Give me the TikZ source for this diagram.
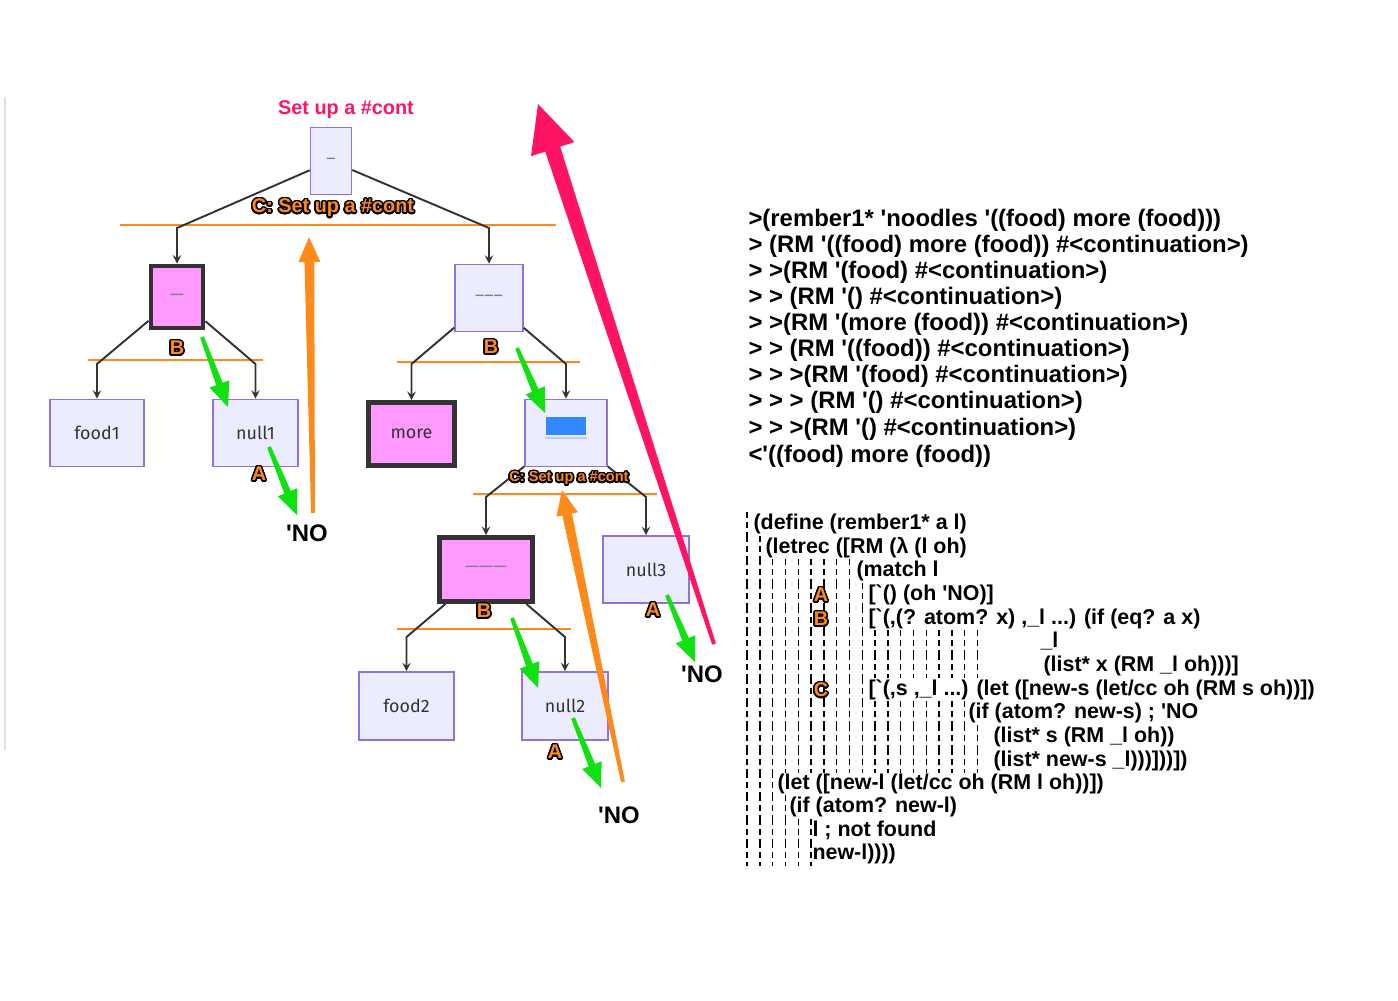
\documentclass[tikz,border=0pt]{standalone}
\usepackage{fontspec}
\setmainfont{Liberation Sans}
\newfontfamily\treefont{Fira Sans}
\usepackage[copies]{contour}
\usepackage{tikz}
\usetikzlibrary{arrows,calc}

\contourlength{0.9pt}
\contournumber{24}

\definecolor{lavfill}{HTML}{ECECFF}
\definecolor{lavline}{HTML}{9370DB}
\definecolor{hotpink}{HTML}{FF99FF}
\definecolor{boxdark}{HTML}{333333}
\definecolor{cutorange}{HTML}{FF8A1C}
\definecolor{arrowgreen}{HTML}{11E011}
\definecolor{crimson}{HTML}{FF1464}
\definecolor{barblue}{HTML}{3388FF}

\newcommand{\q}{\textquotesingle}
\newcommand{\bq}{\textasciigrave}
\newcommand{\tagtext}[1]{\textcolor{cutorange}{\contour{black}{#1}}}

% colour, tail, tip, tail half width, neck half width, head half width, head length
\newcommand{\taperarrow}[7]{%
  \coordinate (#2n) at ($(#3)!#7!(#2)$);
  \fill[#1] ($(#2)!#4!90:(#3)$) -- ($(#2n)!#5!90:(#3)$) -- ($(#2n)!#6!90:(#3)$) -- (#3)
    -- ($(#2n)!#6!-90:(#3)$) -- ($(#2n)!#5!-90:(#3)$) -- ($(#2)!#4!-90:(#3)$) -- cycle;}

\begin{document}
\begin{tikzpicture}[x=0.02cm, y=-0.02cm, >=stealth, semithick,
  box/.style={draw=lavline, fill=lavfill, line width=0.9pt, text=boxdark, font=\treefont\fontsize{10.2}{12}\selectfont},
  hot/.style={box, draw=boxdark, fill=hotpink, line width=2.8pt},
  link/.style={->, draw=boxdark, line width=1.1pt},
  cutline/.style={draw=cutorange, line width=1.1pt},
  tag/.style={yshift=-1pt, font=\bfseries\fontsize{11.3}{13}\selectfont},
  smalltag/.style={font=\bfseries\fontsize{8.3}{10}\selectfont},
  noword/.style={font=\bfseries\fontsize{13.6}{16}\selectfont},
  traceline/.style={anchor=west, inner sep=0pt, text height=10pt, text depth=3.5pt, font=\bfseries\fontsize{13.6}{15}\selectfont},
  codeline/.style={anchor=west, inner sep=0pt, text height=9pt, text depth=3pt, font=\bfseries\fontsize{12.2}{14}\selectfont},
  guide/.style={dash pattern=on 3.4pt off 2.3pt, line width=0.8pt}]

\useasboundingbox (0,0) rectangle (1398,1000);
\draw[line width=0.9pt, black!12] (5,97) -- (5,750);

% tree
\node[box, minimum width=0.82cm, minimum height=1.34cm] (root) at (331,161) {\textcolor{gray}{–}};
\node[hot, minimum width=1.04cm, minimum height=1.24cm] (L1) at (177,297) {\textcolor{gray}{—}};
\node[box, minimum width=1.36cm, minimum height=1.34cm] (R1) at (489,298) {\textcolor{gray}{–––}};
\node[box, minimum width=1.88cm, minimum height=1.34cm] (food1) at (97,433) {food1};
\node[box, minimum width=1.70cm, minimum height=1.34cm] (null1) at (255.5,433) {null1};
\node[hot, minimum width=1.72cm, minimum height=1.26cm] (more) at (411.5,434) {more};
\node[box, minimum width=1.64cm, minimum height=1.34cm] (R2) at (566,433) {};
\node[fill=barblue, inner sep=0pt, minimum width=0.8cm, minimum height=0.36cm] (R2bar) at (566,426) {};
\draw[barblue!40, line width=1pt] ([yshift=-1.2pt]R2bar.south west) -- ([yshift=-1.2pt]R2bar.south east);
\node[hot, minimum width=1.86cm, minimum height=1.28cm] (R3) at (486,569.5) {\textcolor{gray}{———}};
\node[box, minimum width=1.72cm, minimum height=1.34cm] (null3) at (646,569.5) {null3};
\node[box, minimum width=1.90cm, minimum height=1.36cm] (food2) at (406.5,706) {food2};
\node[box, minimum width=1.72cm, minimum height=1.36cm] (null2) at (565,706) {null2};

\draw[cutline] (120,225) -- (556,225);
\draw[cutline] (88,360) -- (263,360);
\draw[cutline] (397,362) -- (580,362);
\draw[cutline] (473,494) -- (657,494);
\draw[cutline] (397,629) -- (571,629);

\coordinate (k0l) at (177,228);   \coordinate (k0r) at (489,228);
\coordinate (k1l) at (97,364);    \coordinate (k1r) at (255.5,364);
\coordinate (k2l) at (411.5,364); \coordinate (k2r) at (566,364);
\coordinate (k3l) at (486,497);   \coordinate (k3r) at (646,497);
\coordinate (k4l) at (406.5,637); \coordinate (k4r) at (565,637);

\draw[link] (root) -- (k0l) -- (L1);
\draw[link] (root) -- (k0r) -- (R1);
\draw[link] (L1) -- (k1l) -- (food1);
\draw[link] (L1) -- (k1r) -- (null1);
\draw[link] (R1) -- (k2l) -- (more);
\draw[link] (R1) -- (k2r) -- (R2);
\draw[link] (R2) -- (k3l) -- (R3);
\draw[link] (R2) -- (k3r) -- (null3);
\draw[link] (R3) -- (k4l) -- (food2);
\draw[link] (R3) -- (k4r) -- (null2);

\node[font=\bfseries\fontsize{11.3}{13}\selectfont, text=crimson] (cont) at (346,110) {Set up a \#cont};
\node[tag] (c0) at (333,207) {\tagtext{C: Set up a \#cont}};
\node[smalltag] (c1) at (569,479) {\tagtext{C: Set up a \#cont}};
\node[tag] (bL1) at (177,347) {\tagtext{B}};
\node[tag] (bR1) at (491,346) {\tagtext{B}};
\node[tag] (bR3) at (484,610) {\tagtext{B}};
\node[tag] (aN1) at (259,473) {\tagtext{A}};
\node[tag] (aN3) at (653,609) {\tagtext{A}};
\node[tag] (aN2) at (555,751) {\tagtext{A}};

\node[noword] (no1) at (307,533) {\q{}NO};
\node[noword] (no3) at (702,674) {\q{}NO};
\node[noword] (no2) at (619,815) {\q{}NO};

% green steps
\coordinate (g1) at (202,337); \coordinate (g1h) at (228,407);
\coordinate (g2) at (269,447); \coordinate (g2h) at (297,515);
\coordinate (g3) at (517,348); \coordinate (g3h) at (545,413);
\coordinate (g4) at (512,618); \coordinate (g4h) at (538,688);
\coordinate (g5) at (573,718); \coordinate (g5h) at (601,788);
\coordinate (g6) at (667,595); \coordinate (g6h) at (695,662);
\foreach \g in {g1,g2,g3,g4,g5,g6}{
  \taperarrow{arrowgreen}{\g}{\g h}{1.1pt}{2pt}{6pt}{14pt}
}

% jumps back
\coordinate (o1) at (313,513); \coordinate (o1h) at (309,237);
\coordinate (o2) at (623,782); \coordinate (o2h) at (562,490);
\taperarrow{cutorange}{o1}{o1h}{1.1pt}{2.8pt}{6.2pt}{14.2pt}
\taperarrow{cutorange}{o2}{o2h}{1.1pt}{2.8pt}{6.2pt}{14.2pt}
\coordinate (r1) at (714,644); \coordinate (r1h) at (538,104);
\taperarrow{crimson}{r1}{r1h}{1.1pt}{4.5pt}{13pt}{27pt}

% trace
\node[traceline] (t1) at (748,221) {>(rember1* \q{}noodles \q((food) more (food)))};
\node[traceline] (t2) at (748,247) {> (RM \q((food) more (food)) \#<continuation>)};
\node[traceline] (t3) at (748,273) {> >(RM \q(food) \#<continuation>)};
\node[traceline] (t4) at (748,299) {> > (RM \q() \#<continuation>)};
\node[traceline] (t5) at (748,325) {> >(RM \q(more (food)) \#<continuation>)};
\node[traceline] (t6) at (748,351) {> > (RM \q((food)) \#<continuation>)};
\node[traceline] (t7) at (748,377) {> > >(RM \q(food) \#<continuation>)};
\node[traceline] (t8) at (748,403) {> > > (RM \q() \#<continuation>)};
\node[traceline] (t9) at (748,430) {> > >(RM \q() \#<continuation>)};
\node[traceline] (t10) at (748,457) {<\q((food) more (food))};

% code with indent guides
\foreach \y/\n in {524/0, 548/1, 571/8, 595/9, 619/9, 642/18, 666/18, 690/9,
                   713/17, 737/18, 761/18, 784/2, 807/3, 831/5, 854/5}
  \foreach \k in {0,...,\n}
    \draw[guide] (747+12.8*\k,\y-11.8) -- ++(0,23.6);

\node[codeline] (s1) at (753,524) {(define (rember1* a l)};
\node[codeline] (s2) at (765,548) {(letrec ([RM (λ (l oh)};
\node[codeline] (s3) at (856,571) {(match l};
\node[codeline] (s4) at (868,595) {[\bq() (oh \q{}NO)]};
\node[codeline] (s5) at (868,619) {[\bq(,(? atom? x) ,\_l ...) (if (eq? a x)};
\node[codeline] (s6) at (1040,642) {\_l};
\node[codeline] (s7) at (1043,666) {(list* x (RM \_l oh)))]};
\node[codeline] (s8) at (868,690) {[\bq(,s ,\_l ...) (let ([new-s (let/cc oh (RM s oh))])};
\node[codeline] (s9) at (968,713) {(if (atom? new-s) ; \q{}NO};
\node[codeline] (s10) at (993,737) {(list* s (RM \_l oh))};
\node[codeline] (s11) at (993,761) {(list* new-s \_l)))]))])};
\node[codeline] (s12) at (777,784) {(let ([new-l (let/cc oh (RM l oh))])};
\node[codeline] (s13) at (789,807) {(if (atom? new-l)};
\node[codeline] (s14) at (812,831) {l ; not found};
\node[codeline] (s15) at (812,854) {new-l))))};

\node[tag] (aC) at (821,594) {\tagtext{A}};
\node[tag] (bC) at (821,618) {\tagtext{B}};
\node[tag] (cC) at (821,689) {\tagtext{C}};

\end{tikzpicture}
\end{document}
